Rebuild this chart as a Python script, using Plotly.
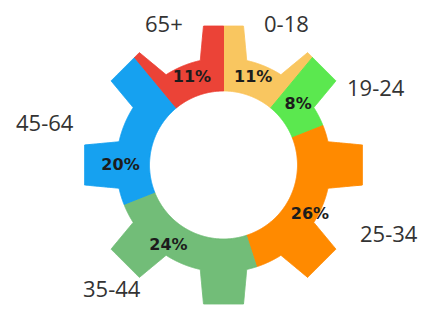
import numpy as np
import plotly.graph_objects as go

# ---- data ----
categories = ["0-18", "19-24", "25-34", "35-44", "45-64", "65+"]
shares = [11, 8, 26, 24, 20, 11]
share_labels = ["11%", "8%", "26%", "24%", "20%", "11%"]
colors = ["#F9C660", "#5BE84F", "#FF8A00", "#72BD78", "#16A1F0", "#EB4337"]

# ---- style / geometry ----
PAGE_PAD = 8                    # default body margin of the html page
W, H = 426 - PAGE_PAD, 317 - PAGE_PAD
CX, CY = 223.5 - PAGE_PAD, 165.0 - PAGE_PAD   # gear centre in figure px
R_RANGE = 150.0                # radial range == px radius of polar area
R_IN, R_ROOT, R_TIP = 74.0, 107.0, 139.0
W_BASE, W_TIP = 23.0, 20.0      # tooth half widths
N_TEETH = 8
# label nudges (angle offset deg, radius px)
pct_nudge = [(-1, 92), (-3, 96), (5, 100), (9, 98), (-15, 103), (0, 93)]
cat_nudge = [(4, 155), (9, 171), (-3, 179), (17, 166), (-1, 184), (-3, 154)]

b = (W_TIP - W_BASE) / (R_TIP - R_ROOT)
a = W_BASE - b * R_ROOT
pitch = 360.0 / N_TEETH


def outer_r(theta_deg):
    phi = np.radians(((theta_deg + pitch / 2) % pitch) - pitch / 2)
    r_tip = R_TIP / np.cos(phi)
    den = np.abs(np.sin(phi)) - b * np.cos(phi)
    r_fl = np.where(den > 1e-9, a / np.where(den > 1e-9, den, 1), np.inf)
    return np.maximum(R_ROOT, np.minimum(r_tip, r_fl))


total = sum(shares)
fig = go.Figure()
start = 0.0
mids = []
for cat, val, col in zip(categories, shares, colors):
    span = 360.0 * val / total
    end = start + span
    th = np.linspace(start, end, max(int(span * 10), 2))
    r_out = outer_r(th)
    theta_poly = np.concatenate([th, th[::-1], th[:1]])
    r_poly = np.concatenate([r_out, np.full_like(th, R_IN), r_out[:1]])
    fig.add_trace(go.Scatterpolar(
        r=r_poly, theta=theta_poly, mode="lines", fill="toself",
        fillcolor=col, line=dict(color=col, width=1), hoverinfo="skip",
        name=cat))
    mids.append(start + span / 2)
    start = end

# percentage labels
fig.add_trace(go.Scatterpolar(
    r=[n[1] for n in pct_nudge],
    theta=[m + n[0] for m, n in zip(mids, pct_nudge)],
    mode="text", text=share_labels,
    textfont=dict(family="DejaVu Sans", size=16, color="#1c1c1c"),
    texttemplate="<b>%{text}</b>", hoverinfo="skip"))

# category labels outside the gear
annotations = []
for cat, m, (dth, rr) in zip(categories, mids, cat_nudge):
    t = np.radians(m + dth)
    px = CX + rr * np.sin(t)
    py = CY - rr * np.cos(t)
    annotations.append(dict(
        x=px / W, y=(H - py) / H, xref="paper", yref="paper",
        text=cat, showarrow=False, xanchor="center", yanchor="middle",
        font=dict(family="Open Sans", size=22, color="#333333")))

fig.update_layout(
    width=W, height=H, margin=dict(l=0, r=0, t=0, b=0),
    paper_bgcolor="white", showlegend=False,
    annotations=annotations,
    polar=dict(
        domain=dict(x=[(CX - R_RANGE) / W, (CX + R_RANGE) / W],
                    y=[(H - CY - R_RANGE) / H, (H - CY + R_RANGE) / H]),
        bgcolor="white",
        radialaxis=dict(visible=False, range=[0, R_RANGE]),
        angularaxis=dict(visible=False, rotation=90, direction="clockwise"),
    ),
)
fig.write_html("out.html")
